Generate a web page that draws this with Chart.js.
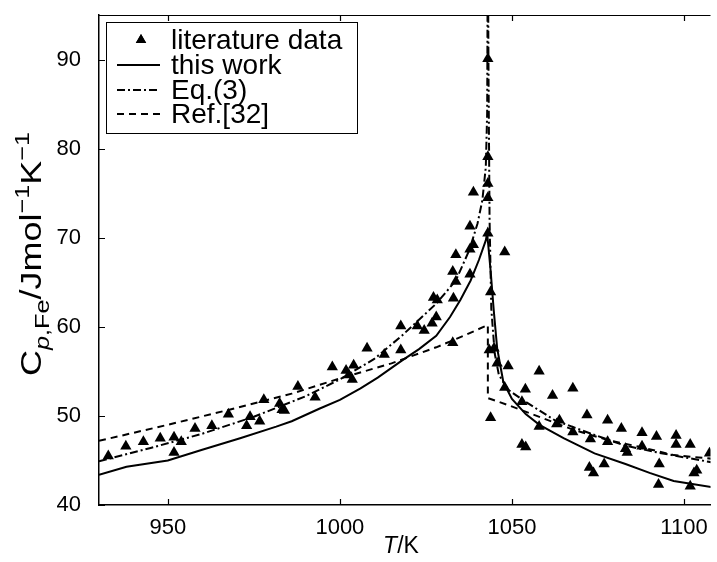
<!DOCTYPE html>
<html>
<head>
<meta charset="utf-8">
<script src="https://cdn.jsdelivr.net/npm/chart.js@4.4.1/dist/chart.umd.min.js"></script>
<style>
    html, body { margin: 0; padding: 0; background: #fff; overflow: hidden; }
    #wrap { width: 717px; height: 562px; }
</style>
</head>
<body>
<div id="wrap"><canvas id="cp-chart"></canvas></div>
<script>
// literature data (triangles)
const litT = [932.7, 937.8, 942.9, 947.8, 951.8, 953.9, 951.8, 957.9, 962.8, 967.6, 972.9, 973.9, 976.7, 977.9,
    982.5, 983.2, 983.9, 987.8, 992.8, 997.8, 1001.8, 1002.6, 1004.0, 1003.6, 1007.9, 1012.9, 1017.7, 1017.7,
    1022.5, 1024.5, 1026.8, 1027.2, 1028.3, 1028.0, 1032.8, 1033.0, 1033.7, 1032.8, 1037.8, 1033.7, 1038.8, 1037.8,
    1037.8, 1038.8, 1043.0, 1043.0, 1043.0, 1043.0, 1043.0, 1043.8, 1047.9, 1044.8, 1043.4, 1045.7, 1048.9,
    1057.9, 1047.9, 1053.9, 1061.8, 1067.7, 1052.9, 1043.8, 1057.9, 1063.8, 1063.0, 1067.7, 1071.8, 1077.8,
    1081.8, 1072.8, 1077.8, 1083.0, 1083.5, 1087.8, 1087.8, 1092.0, 1097.7, 1097.7, 1101.8, 1107.4, 1052.9,
    1054.0, 1072.5, 1073.7, 1076.8, 1092.8, 1092.6, 1101.8, 1102.9, 1103.7];
const litCp = [45.5, 46.6, 47.1, 47.5, 47.6, 47.1, 45.9, 48.6, 48.9, 50.2, 48.9, 49.9, 49.4, 51.8,
    51.4, 50.7, 50.6, 53.3, 52.1, 55.5, 55.1, 54.6, 55.7, 54.1, 57.6, 56.9, 60.1, 57.4,
    60.1, 59.6, 60.4, 63.3, 63.0, 61.1, 58.2, 63.2, 65.1, 66.2, 65.9, 68.1, 69.2, 68.7,
    71.3, 75.1, 90.1, 79.1, 76.1, 74.5, 70.5, 63.9, 68.4, 57.6, 57.4, 55.9, 55.6,
    55.0, 53.2, 53.0, 52.3, 53.1, 51.6, 49.8, 48.8, 49.5, 49.1, 48.2, 50.1, 49.5,
    48.6, 47.4, 47.1, 46.3, 45.9, 48.1, 46.6, 47.7, 47.8, 46.8, 46.8, 45.8, 46.8,
    46.5, 44.2, 43.6, 44.6, 44.6, 42.3, 42.1, 43.6, 43.9];

// this work (solid)
const workT = [930, 938, 950, 960, 971, 981.5, 986, 994, 1000, 1006, 1011, 1018, 1023, 1028, 1032, 1035, 1038,
    1040.4, 1042.4, 1042.8, 1043.8, 1044.7, 1045.7, 1047.5, 1050, 1054, 1058, 1065, 1074, 1083, 1090, 1097, 1108];
const workCp = [43.4, 44.3, 45.0, 46.2, 47.5, 48.8, 49.4, 50.8, 51.8, 53.1, 54.3, 56.2, 57.5, 59.0, 61.1, 63.0, 65.2,
    67.5, 69.7, 70.5, 66.3, 61.9, 57.6, 53.8, 51.9, 50.2, 49.0, 47.5, 45.8, 44.6, 43.6, 42.7, 42.0];

// Eq.(3) (dash-dot), diverges at Tc
const eqT = [930, 945, 960, 975, 990, 1000, 1010, 1018, 1028, 1033.7, 1037.6, 1040, 1041.4, 1042.4, 1042.8, 1042.95,
    1043.05, 1043.2, 1043.5, 1044, 1045, 1046.2, 1049, 1053.9, 1062.5, 1073, 1082.6, 1092.2, 1108];
const eqCp = [44.9, 46.4, 48.0, 49.9, 52.2, 54.1, 56.4, 59.0, 62.6, 65.2, 68.6, 71.6, 74.2, 77.9, 84, 100,
    100, 88, 72, 62, 57, 54.6, 52.9, 51.6, 49.5, 48.0, 46.7, 45.9, 44.8];

// Ref.[32] (dashed), jumps at Tc
const refT = [930, 950, 970, 986, 1000, 1015, 1028, 1036, 1043, 1043, 1049, 1058.6, 1068.2, 1077.8, 1087.4, 1097, 1108];
const refCp = [47.2, 49.0, 50.9, 52.5, 54.2, 55.9, 57.7, 59.0, 60.2, 52.0, 51.2, 49.8, 48.4, 47.3, 46.5, 45.6, 45.2];

const xTicks = [950, 1000, 1050, 1100];
const yTicks = [40, 50, 60, 70, 80, 90];
const legendLabels = ['literature data', 'this work', 'Eq.(3)', 'Ref.[32]'];

const FONT = '"Liberation Sans", Arial, sans-serif';
const pts = (xs, ys) => xs.map((x, i) => ({ x, y: ys[i] }));

// inward ticks + top border, like the original figure
const frame = {
    id: 'frame',
    afterDraw(chart) {
        const { ctx, chartArea: a, scales: { x, y } } = chart;
        ctx.save();
        ctx.strokeStyle = '#000';
        ctx.lineWidth = 1.2;
        ctx.beginPath();
        ctx.moveTo(a.left, a.top + 0.5);
        ctx.lineTo(a.right, a.top + 0.5);
        xTicks.forEach((v) => {
            const px = Math.round(x.getPixelForValue(v)) + 0.5;
            ctx.moveTo(px, a.bottom); ctx.lineTo(px, a.bottom - 6);
            ctx.moveTo(px, a.top); ctx.lineTo(px, a.top + 6);
        });
        yTicks.forEach((v) => {
            const py = Math.round(y.getPixelForValue(v)) + 0.5;
            ctx.moveTo(a.left, py); ctx.lineTo(a.left + 6, py);
        });
        ctx.stroke();
        ctx.restore();
    },
};

// text runs with sub/superscripts, sx stretches along the text direction
function drawRich(ctx, parts, cx, cy, sx = 1) {
    let total = 0;
    parts.forEach((p) => { ctx.font = p.f; total += ctx.measureText(p.t).width; });
    ctx.save();
    ctx.translate(cx, cy);
    ctx.scale(sx, 1);
    let xx = -total / 2;
    parts.forEach((p) => {
        ctx.font = p.f;
        ctx.fillText(p.t, xx, p.dy || 0);
        xx += ctx.measureText(p.t).width;
    });
    ctx.restore();
}

const titles = {
    id: 'titles',
    afterDraw(chart) {
        const { ctx } = chart;
        ctx.save();
        ctx.fillStyle = '#000';
        ctx.textBaseline = 'alphabetic';
        drawRich(ctx, [
            { t: 'T', f: `italic 23px ${FONT}` },
            { t: '/K', f: `23px ${FONT}` },
        ], 401, 553);
        ctx.translate(41, 254);
        ctx.rotate(-Math.PI / 2);
        drawRich(ctx, [
            { t: 'C', f: `30px ${FONT}` },
            { t: 'p', f: `italic 21px ${FONT}`, dy: 8 },
            { t: ',Fe', f: `21px ${FONT}`, dy: 8 },
            { t: '/Jmol', f: `30px ${FONT}` },
            { t: '\u22121', f: `21px ${FONT}`, dy: -12 },
            { t: 'K', f: `30px ${FONT}` },
            { t: '\u22121', f: `21px ${FONT}`, dy: -12 },
        ], 0, 0, 1.2);
        ctx.restore();
    },
};

const legendBox = {
    id: 'legendBox',
    afterDraw(chart) {
        const { ctx } = chart;
        const box = { l: 106, t: 22, r: 357, b: 133 };
        const rows = [40, 65, 90, 114];
        ctx.save();
        ctx.fillStyle = '#fff';
        ctx.fillRect(box.l, box.t, box.r - box.l, box.b - box.t);
        ctx.strokeStyle = '#000';
        ctx.lineWidth = 1;
        ctx.strokeRect(box.l + 0.5, box.t + 0.5, box.r - box.l, box.b - box.t);
        ctx.fillStyle = '#000';
        Chart.helpers.drawPoint(ctx, { pointStyle: 'triangle', radius: 6, borderWidth: 0 }, 141, rows[0]);
        ctx.fill();
        const dashes = [[], [], [8, 3, 2, 3], [7, 5]];
        ctx.lineWidth = 2;
        for (let i = 1; i < 4; i++) {
            ctx.setLineDash(dashes[i]);
            ctx.beginPath();
            ctx.moveTo(117, rows[i]);
            ctx.lineTo(160, rows[i]);
            ctx.stroke();
        }
        ctx.setLineDash([]);
        ctx.font = `28px ${FONT}`;
        ctx.textBaseline = 'middle';
        legendLabels.forEach((s, i) => ctx.fillText(s, 171, rows[i] + 1));
        ctx.restore();
    },
};

const noPad = (s) => { s.paddingTop = 0; s.paddingBottom = 0; s.paddingLeft = 0; s.paddingRight = 0; };

new Chart(document.getElementById('cp-chart'), {
    type: 'scatter',
    data: {
        datasets: [
            { label: legendLabels[0], data: pts(litT, litCp), pointStyle: 'triangle', pointRadius: 6.5,
              backgroundColor: '#000', borderColor: '#000', borderWidth: 0, showLine: false },
            { label: legendLabels[1], data: pts(workT, workCp), showLine: true, pointRadius: 0,
              borderColor: '#000', borderWidth: 2, tension: 0 },
            { label: legendLabels[2], data: pts(eqT, eqCp), showLine: true, pointRadius: 0,
              borderColor: '#000', borderWidth: 2, borderDash: [8, 3, 2, 3], tension: 0 },
            { label: legendLabels[3], data: pts(refT, refCp), showLine: true, pointRadius: 0,
              borderColor: '#000', borderWidth: 2, borderDash: [7, 5], tension: 0 },
        ],
    },
    options: {
        responsive: true,
        maintainAspectRatio: false,
        animation: false,
        devicePixelRatio: 1,
        layout: { padding: { top: 15, right: 0, left: 0, bottom: 0 } },
        plugins: { legend: { display: false }, tooltip: { enabled: false } },
        scales: {
            x: {
                type: 'linear', min: 930, max: 1107.7,
                grid: { display: false },
                border: { display: true, color: '#000', width: 1.5 },
                afterBuildTicks: (s) => { s.ticks = xTicks.map((v) => ({ value: v })); },
                afterFit: (s) => { s.height = 57; noPad(s); },
                ticks: { color: '#000', font: { family: FONT, size: 22 }, padding: 2, maxRotation: 0,
                    callback: (v) => String(v) },
            },
            y: {
                type: 'linear', min: 40, max: 95,
                grid: { display: false },
                border: { display: true, color: '#000', width: 1.5 },
                afterBuildTicks: (s) => { s.ticks = yTicks.map((v) => ({ value: v })); },
                afterFit: (s) => { s.width = 99; noPad(s); },
                ticks: { color: '#000', font: { family: FONT, size: 22 }, padding: 10,
                    callback: (v) => String(v) },
            },
        },
    },
    plugins: [frame, titles, legendBox],
});
</script>
</body>
</html>
